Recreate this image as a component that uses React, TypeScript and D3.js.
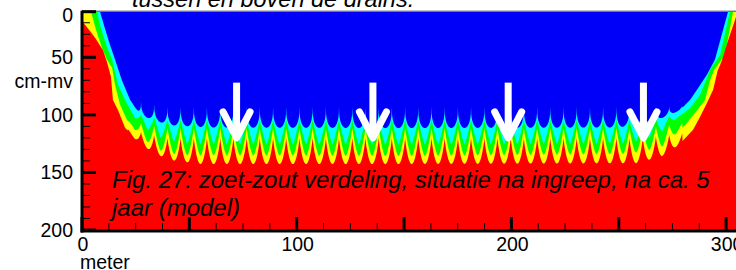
import React from "react";
import * as d3 from "d3";

// drain positions (m) where salt water cones up in narrow spikes
const drainX = [
  21.3, 27.5, 33.6, 39.8, 45.9, 52.1, 58.2, 64.4, 70.5, 76.7, 82.8, 89.0, 95.1,
  101.3, 107.4, 113.6, 119.7, 125.9, 132.0, 138.2, 144.3, 150.5, 156.6, 162.8,
  168.9, 175.1, 181.2, 187.4, 193.5, 199.7, 205.8, 212.0, 218.1, 224.3, 230.4,
  236.6, 242.7, 248.9, 255.0, 261.2, 267.3, 273.5, 279.6,
];
// arrows drawn above the drains (m)
const arrowX = [72, 135.5, 198.5, 261.5];

const xLabels = [0, 100, 200, 300];
const yLabels = [0, 50, 100, 150, 200];

// band boundaries: [x (m), depth (cm-mv)], "base" = lens bottom, "tip" = spike top
const blueCyanBase = [
  [0, 0], [8.4, 10.4], [10.2, 22], [13, 39], [15.4, 52], [18.6, 70], [22.4, 87],
  [27, 100], [34, 105], [41, 109], [60, 111], [150, 111.5], [250, 111], [266.9, 105],
  [273.9, 100], [278.5, 96], [283.2, 87], [286.5, 78], [291.1, 65], [294.8, 52],
  [300.9, 10.4], [302.5, 0], [310, 0],
];
const blueCyanTip = [[20, 86], [40, 93], [260, 93], [280, 92]];

const cyanGreenBase = [
  [0, 0], [7, 10.4], [8.4, 22], [11.2, 39], [14, 52], [16.8, 74], [20, 87],
  [24.7, 103], [31.7, 115], [38.7, 122], [50, 125.5], [150, 126], [255, 125],
  [268, 118], [276.2, 104.5], [283.2, 94], [287.8, 83], [292.5, 61], [297.2, 48],
  [301.8, 10.4], [303.2, 0], [310, 0],
];
const cyanGreenTip = [[20, 98], [40, 104.5], [260, 104.5], [280, 100]];

const greenYellowBase = [
  [0, 0], [4.2, 10.4], [6.5, 26], [9.3, 42], [11.6, 52], [14, 59], [15.4, 74],
  [17.7, 91], [21, 104.5], [24.7, 113], [29.3, 122], [36.3, 131], [45, 135],
  [150, 135.8], [255, 134], [270, 128], [280.9, 109], [286.5, 96], [290.2, 87],
  [292.5, 70], [294.4, 61], [299.5, 48], [303.2, 10.4], [304.6, 0], [310, 0],
];
const greenYellowTip = [[20, 105], [40, 111.5], [260, 111.5], [280, 107]];

const yellowRedBase = [
  [0, 18.5], [2.8, 25], [6.1, 33], [9.8, 44], [11.6, 54], [13.5, 67], [14.4, 87],
  [16.8, 96], [20, 111], [24.7, 121], [31.7, 131], [40, 139], [55, 142.7],
  [150, 142.7], [258, 142], [270, 136], [278, 126], [284.6, 113], [287.8, 102],
  [291, 90], [294, 78], [296, 62], [298, 53], [301, 35], [304.6, 15], [306, 5],
  [310, 0],
];
const yellowRedTip = [[20, 112], [40, 120.2], [260, 120.2], [280, 116]];

const font = "'Liberation Sans', Arial, sans-serif";

const profile = pts =>
  d3.scaleLinear().domain(pts.map(p => p[0])).range(pts.map(p => p[1]));

const App = () => {
  const x = d3.scaleLinear().domain([0, 310]).range([82, 82 + 310 * 2.147]);
  const y = d3.scaleLinear().domain([10.4, 200]).range([11.7, 230]).clamp(true);
  const [x0] = x.range();
  const [yTop, yBot] = y.range();

  // q: lobe profile (1 = V, 2 = U), p: spike sharpness (<1 thin spikes)
  const bands = [
    { base: blueCyanBase, tip: blueCyanTip, color: "#00ffff", q: 2, p: 0.4 },
    { base: cyanGreenBase, tip: cyanGreenTip, color: "#00ff00", q: 1.2, p: 1 },
    { base: greenYellowBase, tip: greenYellowTip, color: "#ffff00", q: 1.6, p: 1 },
    { base: yellowRedBase, tip: yellowRedTip, color: "#ff0000", q: 2, p: 0.9 },
  ];

  const xs = d3.merge([d3.range(0, 310.05, 0.1), drainX]).sort(d3.ascending);
  const first = drainX[0];
  const last = drainX[drainX.length - 1];

  const bandPaths = bands.map(b => {
    const base = profile(b.base);
    const tip = profile(b.tip);
    const depth = v => {
      const d = base(v);
      if (v < first || v > last) return d;
      const i = Math.min(d3.bisectRight(drainX, v) - 1, drainX.length - 2);
      const a = drainX[i], c = drainX[i + 1];
      const t = Math.max(0, Math.min(1, (v - a) / (c - a)));
      const top = Math.min(tip(v), d);
      const g = Math.pow(Math.max(0, 1 - Math.pow(Math.abs(2 * t - 1), b.q)), b.p);
      return top + (d - top) * g;
    };
    const area = d3.area()
      .x(v => x(v))
      .y0(yBot)
      .y1(v => y(depth(v)));
    return { d: area(xs), color: b.color };
  });

  const arrowTop = y(72);
  const arrowTip = y(120);

  const xMajor = d3.range(0, 301, 50);
  const xMinor = d3.range(12.5, 310, 12.5).filter(v => v % 50 !== 0);
  const yMinor = d3.range(20, 200, 10).filter(v => v % 50 !== 0);

  return (
    <svg width={736} height={270} style={{ position: "absolute", left: 0, top: 0 }}>
      <defs>
        <clipPath id="plot">
          <rect x={x0} y={yTop} width={800} height={yBot - yTop} />
        </clipPath>
      </defs>

      <text x={132} y={7} fontFamily={font} fontSize={23.5} fontStyle="italic">
        tussen en boven de drains.
      </text>

      <g clipPath="url(#plot)">
        <rect x={x0} y={yTop} width={800} height={yBot - yTop} fill="#0000f8" />
        {bandPaths.map((b, i) => (
          <path key={i} d={b.d} fill={b.color} />
        ))}
      </g>

      {arrowX.map(v => (
        <g key={v} stroke="#fff" strokeWidth={7} fill="none">
          <line x1={x(v)} x2={x(v)} y1={arrowTop} y2={arrowTip - 3} />
          <polyline
            points={`${x(v) - 13.5},${arrowTip - 26} ${x(v)},${arrowTip} ${x(v) + 13.5},${arrowTip - 26}`}
            strokeLinecap="round"
            strokeLinejoin="round"
          />
        </g>
      ))}

      <g fontFamily={font} fontSize={24} fontStyle="italic" fill="#000">
        <text x={112} y={187.5}>Fig. 27: zoet-zout verdeling, situatie na ingreep, na ca. 5</text>
        <text x={112} y={215.5}>jaar (model)</text>
      </g>

      {/* frame */}
      <line x1={x0} x2={760} y1={yTop - 0.5} y2={yTop - 0.5} stroke="#444" strokeWidth={1} />
      <line x1={x0} x2={x0} y1={yTop - 1} y2={yBot + 2.5} stroke="#000" strokeWidth={3} />
      <line x1={x0 - 1.5} x2={760} y1={yBot + 1} y2={yBot + 1} stroke="#000" strokeWidth={3} />

      {/* y axis ticks */}
      {yLabels.map(v => (
        <line key={"ym" + v} x1={x0} x2={x0 + 14} y1={y(v)} y2={y(v)} stroke="#000" strokeWidth={3} />
      ))}
      {yMinor.map(v => (
        <line key={"yn" + v} x1={x0} x2={x0 + 8} y1={y(v)} y2={y(v)} stroke="#000" strokeWidth={1} />
      ))}
      <g fontFamily={font} fontSize={19.5} textAnchor="end">
        {yLabels.map(v => (
          <text key={v} x={73} y={Math.max(y(v), yTop + 3)} dy="0.35em">
            {v}
          </text>
        ))}
        <text x={73} y={88}>cm-mv</text>
      </g>

      {/* x axis ticks */}
      {xMajor.map(v => (
        <line key={"xm" + v} x1={x(v)} x2={x(v)} y1={yBot} y2={yBot - 13} stroke="#000" strokeWidth={3} />
      ))}
      {xMinor.map(v => (
        <line key={"xn" + v} x1={x(v)} x2={x(v)} y1={yBot} y2={yBot - 7} stroke="#000" strokeWidth={1} />
      ))}
      <g fontFamily={font} fontSize={19.5} textAnchor="middle">
        {xLabels.map(v => (
          <text key={v} x={x(v) + 1} y={251}>
            {v}
          </text>
        ))}
      </g>
      <text x={80} y={268.5} fontFamily={font} fontSize={19.5}>
        meter
      </text>
    </svg>
  );
};

export default App;
